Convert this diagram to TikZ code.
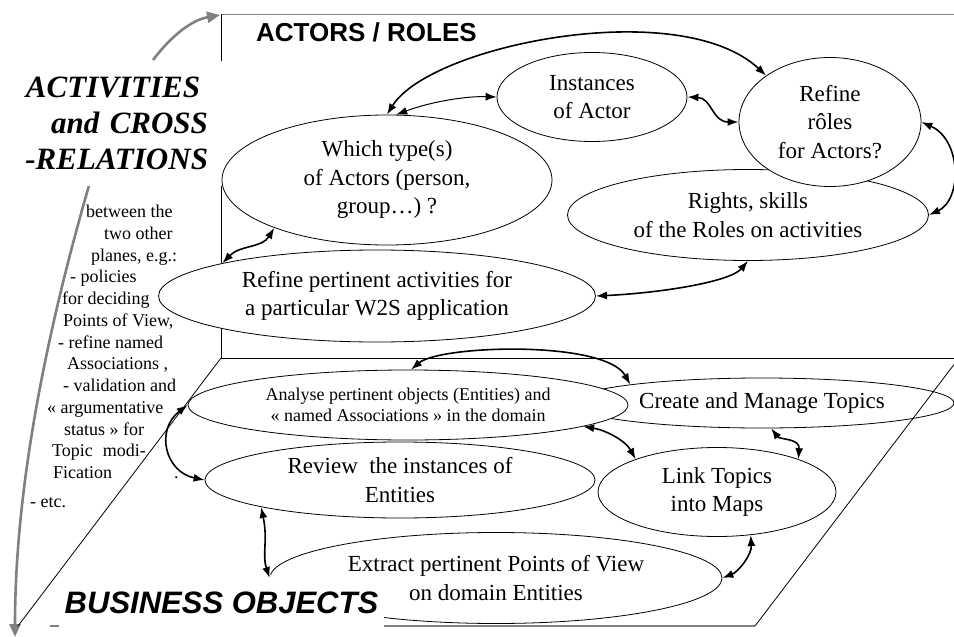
\documentclass[tikz,border=0pt]{standalone}
\usepackage{fontspec}
\setmainfont{Liberation Serif}
\newfontfamily\headfont{Liberation Sans}
\usetikzlibrary{arrows.meta,shapes.geometric}
\newcommand\mybig{\fontsize{23}{28.5}\selectfont}
\newcommand\mysmall{\fontsize{18}{21}\selectfont}
\newcommand\mynote{\fontsize{18}{21.75}\selectfont}
\begin{document}
\begin{tikzpicture}[x=1pt,y=-1pt,
  ell/.style={draw, ellipse, fill=white, inner sep=0pt, align=center, line width=0.8pt, font=\mybig},
  arr/.style={{Latex[length=11pt,width=8pt]}-{Latex[length=11pt,width=8pt]}, line width=1.6pt},
  grayarr/.style={-{Triangle[length=13pt,width=11pt]}, line width=2.6pt, draw=gray, color=gray},
  frame/.style={line width=0.8pt},
  planetitle/.style={inner sep=0pt, font=\headfont\bfseries}
]
\useasboundingbox (0,0) rectangle (954,637);

% gray activity arrows
\coordinate (gA) at (153,60);
\coordinate (gB) at (220,15);
\coordinate (gC) at (90,182);
\coordinate (gD) at (15,637);
\draw[grayarr] (gA) .. controls (172,35) and (192,20) .. (gB);
\draw[grayarr] (gC) .. controls (50,320) and (15,480) .. (gD);

% actors plane
\coordinate (tl) at (221,14);
\coordinate (tr) at (954,14);
\coordinate (bl) at (221,358);
\coordinate (br) at (954,358);
\draw[frame, gray] (tl) -- (tr);
\draw[frame] (tl) -- (bl) -- (br);

% business objects plane
\coordinate (pbl) at (18,626);
\coordinate (pbs) at (50,626);
\coordinate (pbr) at (755,626);
\coordinate (ptr) at (959,358);
\draw[frame, gray, line width=1.2pt] (pbs) -- (pbr);

% activities label
\node[fill=white, inner sep=0pt, minimum width=212pt, minimum height=125pt,
      text width=185pt, align=right,
      font=\fontsize{31}{36}\selectfont\bfseries\itshape] (act) at (115.5,123) {ACTIVITIES\rule{8pt}{0pt}\\and CROSS\\-RELATIONS};

% ellipses, actors plane
\node[ell, minimum width=361pt, minimum height=91pt] (rights) at (748,215) {Rights, skills\\of the Roles on activities};
\node[ell, minimum width=182pt, minimum height=129pt] (roles) at (830,122) {Refine\\rôles\\for Actors?};
\node[ell, minimum width=190pt, minimum height=89pt] (inst) at (592,97) {Instances\\of Actor};
\node[ell, minimum width=330pt, minimum height=130pt] (which) at (387,180) {Which type(s)\\of Actors (person,\\group…) ?};
\node[ell, minimum width=437pt, minimum height=92pt] (refact) at (377,296) {Refine pertinent activities for\\a particular W2S application};

% ellipses, business objects plane
\node[ell, minimum width=384pt, minimum height=50pt] (create) at (762,403) {Create and Manage Topics};
\node[ell, minimum width=440pt, minimum height=70pt, font=\mysmall] (analyse) at (408,405) {Analyse pertinent objects (Entities) and\\« named Associations » in the domain};
\node[ell, minimum width=390pt, minimum height=76pt] (review) at (400,480) {Review~ the instances of\\Entities};
\node[ell, minimum width=238pt, minimum height=89pt] (link) at (717,492) {Link Topics\\into Maps};
\node[ell, minimum width=452pt, minimum height=91pt] (extract) at (496,578) {Extract pertinent Points of View\\on domain Entities};

% plane titles
\node[planetitle, fill=white, inner xsep=6pt, minimum height=56pt, font=\headfont\bfseries\itshape\fontsize{31}{36}\selectfont] (bo) at (221.5,603) {BUSINESS OBJECTS};
\node[planetitle, anchor=west, font=\headfont\bfseries\fontsize{26}{30}\selectfont] (ar) at (256,32) {ACTORS / ROLES};

% diagonals of the lower plane
\draw[frame] (bl) -- (pbl);
\draw[frame] (ptr) -- (pbr);

% note on the left
\node[anchor=north west, inner sep=0pt, align=left, font=\mynote] (note) at (30,205) {%
\hspace*{56pt}between the\\
\hspace*{74pt}two other\\
\hspace*{61pt}planes, e.g.:\\
\hspace*{40pt}- policies\\
\hspace*{32pt}for deciding\\
\hspace*{33pt}Points of View,\\
\hspace*{28pt}- refine named\\
\hspace*{37pt}Associations ,\\
\hspace*{33pt}- validation and\\
\hspace*{17pt}« argumentative\\
\hspace*{34pt}status » for\\
\hspace*{22pt}Topic\hspace*{10pt}modi-\\
\hspace*{23pt}Fication\hspace*{62pt}.\\[7pt]
- etc.};

% connectors, actors plane
\draw[arr] (which.north) .. controls (430,45) and (680,-5) .. (roles.144);
\draw[arr, line width=1pt] (which.82) .. controls (430,102) and (465,96) .. (inst.west);
\draw[arr] (inst.east) .. controls (712,98) and (712,122) .. (roles.west);
\draw[arr] (roles.east) .. controls (962,140) and (962,200) .. (rights.east);
\draw[arr] (refact.east) .. controls (660,293) and (730,282) .. (rights.south);
\draw[arr] (refact.168) .. controls (240,245) and (262,248) .. (which.203);

% connectors, business objects plane
\draw[arr] (analyse.85) .. controls (440,345) and (605,340) .. (create.172);
\draw[arr] (analyse.353) .. controls (605,430) and (625,440) .. (link.158);
\draw[arr] (create.290) .. controls (780,440) and (800,438) .. (link.22);
\draw[arr] (link.308) .. controls (752,555) and (738,572) .. (extract.east);
\draw[arr] (review.191) .. controls (268,540) and (262,555) .. (extract.west);
\draw[arr] (analyse.west) .. controls (155,430) and (165,472) .. (review.west);
\end{tikzpicture}
\end{document}
